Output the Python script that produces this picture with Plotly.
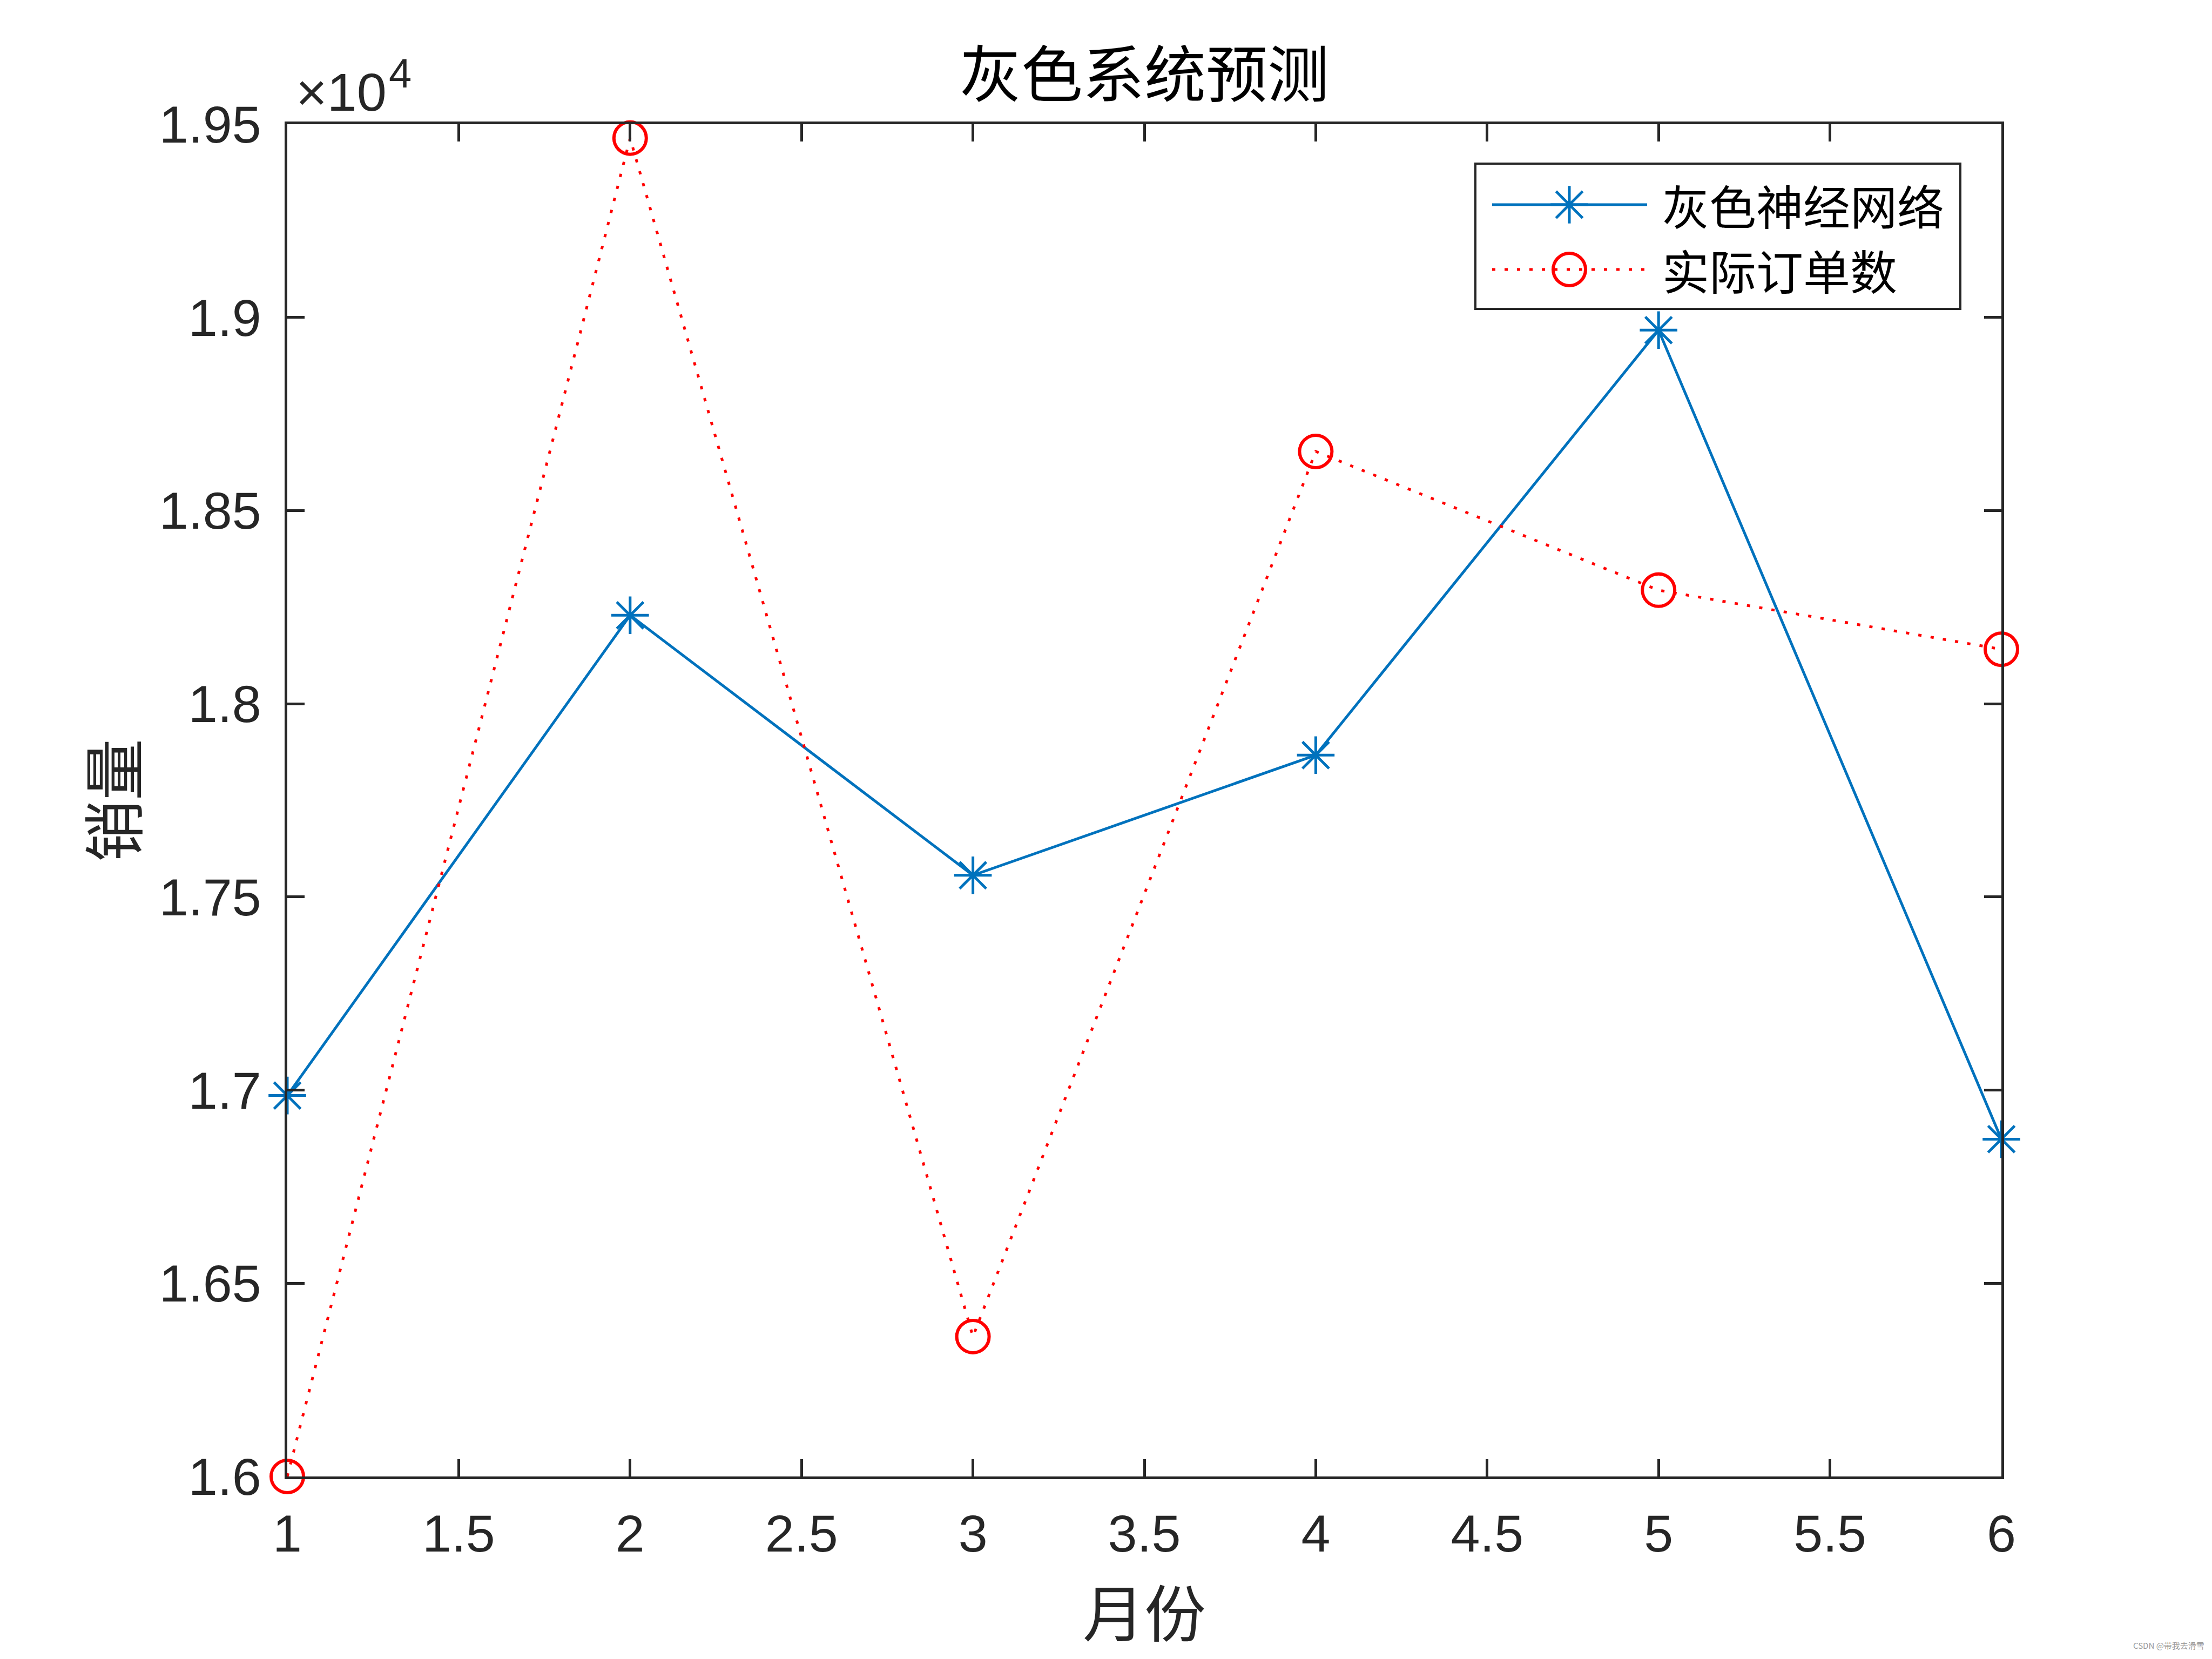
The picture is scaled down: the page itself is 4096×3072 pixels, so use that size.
import plotly.graph_objects as go

# ---- data ----
months = [1, 2, 3, 4, 5, 6]
grey_nn = [16986, 18229, 17556, 17867, 18967, 16873]      # 灰色神经网络
actual_orders = [16000, 19464, 16362, 18653, 18294, 18141]  # 实际订单数
series_names = ["灰色神经网络", "实际订单数"]
x_ticks = [1, 1.5, 2, 2.5, 3, 3.5, 4, 4.5, 5, 5.5, 6]
x_ticktext = ["1", "1.5", "2", "2.5", "3", "3.5", "4", "4.5", "5", "5.5", "6"]
y_ticks = [16000, 16500, 17000, 17500, 18000, 18500, 19000, 19500]
y_ticktext = ["1.6", "1.65", "1.7", "1.75", "1.8", "1.85", "1.9", "1.95"]

BLUE = "#0072BD"
RED = "#FF0000"
AX = "#262626"
LAT = "Liberation Sans, Arial, sans-serif"
CJK = "Noto Sans CJK SC, sans-serif"

W, H = 4096, 3072
L, R, T, B = 532, 390, 230, 338
pw, ph = W - L - R, H - T - B


def px_x(p):
    return (p - L) / pw


def px_y(p):
    return 1 - (p - T) / ph


fig = go.Figure()

fig.add_trace(go.Scatter(
    x=months, y=grey_nn, mode="lines+markers", name=series_names[0],
    line=dict(color=BLUE, width=5),
    marker=dict(symbol="asterisk-open", size=58, color=BLUE, line=dict(color=BLUE, width=5)),
    cliponaxis=False, showlegend=False))

fig.add_trace(go.Scatter(
    x=months, y=actual_orders, mode="lines+markers", name=series_names[1],
    line=dict(color=RED, width=5, dash="6px,17px"),
    marker=dict(symbol="circle-open", size=60, color=RED, line=dict(color=RED, width=6)),
    cliponaxis=False, showlegend=False))

# ---- custom legend (samples on an overlay axis in paper units) ----
lx0, lx1, lxm = px_x(2763), px_x(3050), px_x(2906)
ly = [px_y(379), px_y(499)]
fig.add_trace(go.Scatter(x=[lx0, lx1], y=[ly[0], ly[0]], mode="lines",
                         line=dict(color=BLUE, width=5), xaxis="x2", yaxis="y2",
                         showlegend=False, hoverinfo="skip"))
fig.add_trace(go.Scatter(x=[lxm], y=[ly[0]], mode="markers",
                         marker=dict(symbol="asterisk-open", size=58, color=BLUE,
                                     line=dict(color=BLUE, width=5)),
                         xaxis="x2", yaxis="y2", showlegend=False, hoverinfo="skip"))
fig.add_trace(go.Scatter(x=[lx0, lx1], y=[ly[1], ly[1]], mode="lines",
                         line=dict(color=RED, width=5, dash="6px,17px"), xaxis="x2", yaxis="y2",
                         showlegend=False, hoverinfo="skip"))
fig.add_trace(go.Scatter(x=[lxm], y=[ly[1]], mode="markers",
                         marker=dict(symbol="circle-open", size=60, color=RED,
                                     line=dict(color=RED, width=6)),
                         xaxis="x2", yaxis="y2", showlegend=False, hoverinfo="skip"))

axis_common = dict(showline=True, linecolor=AX, linewidth=5, mirror="ticks",
                   ticks="inside", ticklen=32, tickwidth=5, tickcolor=AX,
                   showgrid=False, zeroline=False,
                   tickfont=dict(family=LAT, size=97, color=AX))

fig.update_layout(
    width=W, height=H,
    margin=dict(l=L, r=R, t=T, b=B, autoexpand=False),
    paper_bgcolor="white", plot_bgcolor="white",
    xaxis=dict(range=[1, 6], tickvals=x_ticks, ticktext=x_ticktext,
               ticklabelstandoff=18, **axis_common),
    yaxis=dict(range=[16000, 19500], tickvals=y_ticks, ticktext=y_ticktext,
               ticklabelstandoff=24, **axis_common),
    xaxis2=dict(overlaying="x", range=[0, 1], visible=False, fixedrange=True),
    yaxis2=dict(overlaying="y", range=[0, 1], visible=False, fixedrange=True),
    showlegend=False,
)

# legend box
fig.add_shape(type="rect", xref="paper", yref="paper",
              x0=px_x(2732), x1=px_x(3630), y0=px_y(572), y1=px_y(303),
              line=dict(color=AX, width=4), fillcolor="white", layer="below")

for name, yy in zip(series_names, ly):
    fig.add_annotation(text=name, xref="paper", yref="paper", x=px_x(3076), y=yy,
                       xanchor="left", yanchor="middle", showarrow=False,
                       font=dict(family=CJK, size=87, color="black"))

# title
fig.add_annotation(text="灰色系统预测", xref="paper", yref="paper", x=0.5, y=px_y(130),
                   xanchor="center", yanchor="middle", showarrow=False,
                   font=dict(family=CJK, size=114, color="black"))
# axis titles
fig.add_annotation(text="月份", xref="paper", yref="paper", x=0.5, y=px_y(2980),
                   xanchor="center", yanchor="middle", showarrow=False,
                   font=dict(family=CJK, size=114, color=AX))
fig.add_annotation(text="销量", xref="paper", yref="paper", x=px_x(204), y=0.5,
                   xanchor="center", yanchor="middle", showarrow=False, textangle=-90,
                   font=dict(family=CJK, size=114, color=AX))
# exponent
fig.add_annotation(text="×10", xref="paper", yref="paper", x=px_x(546), y=1.0,
                   xanchor="left", yanchor="bottom", yshift=2, showarrow=False,
                   font=dict(family=LAT, size=99, color=AX))
fig.add_annotation(text="4", xref="paper", yref="paper", x=px_x(718), y=1.0,
                   xanchor="left", yanchor="bottom", yshift=50, showarrow=False,
                   font=dict(family=LAT, size=76, color=AX))
# watermark
fig.add_annotation(text="CSDN @带我去滑雪", xref="paper", yref="paper", x=px_x(4084), y=px_y(3046),
                   xanchor="right", yanchor="middle", showarrow=False,
                   font=dict(family=CJK, size=15, color="#9a9a9a"))

fig.write_html("out.html", config={"displayModeBar": False},
               post_script="document.body.style.margin='0';")
